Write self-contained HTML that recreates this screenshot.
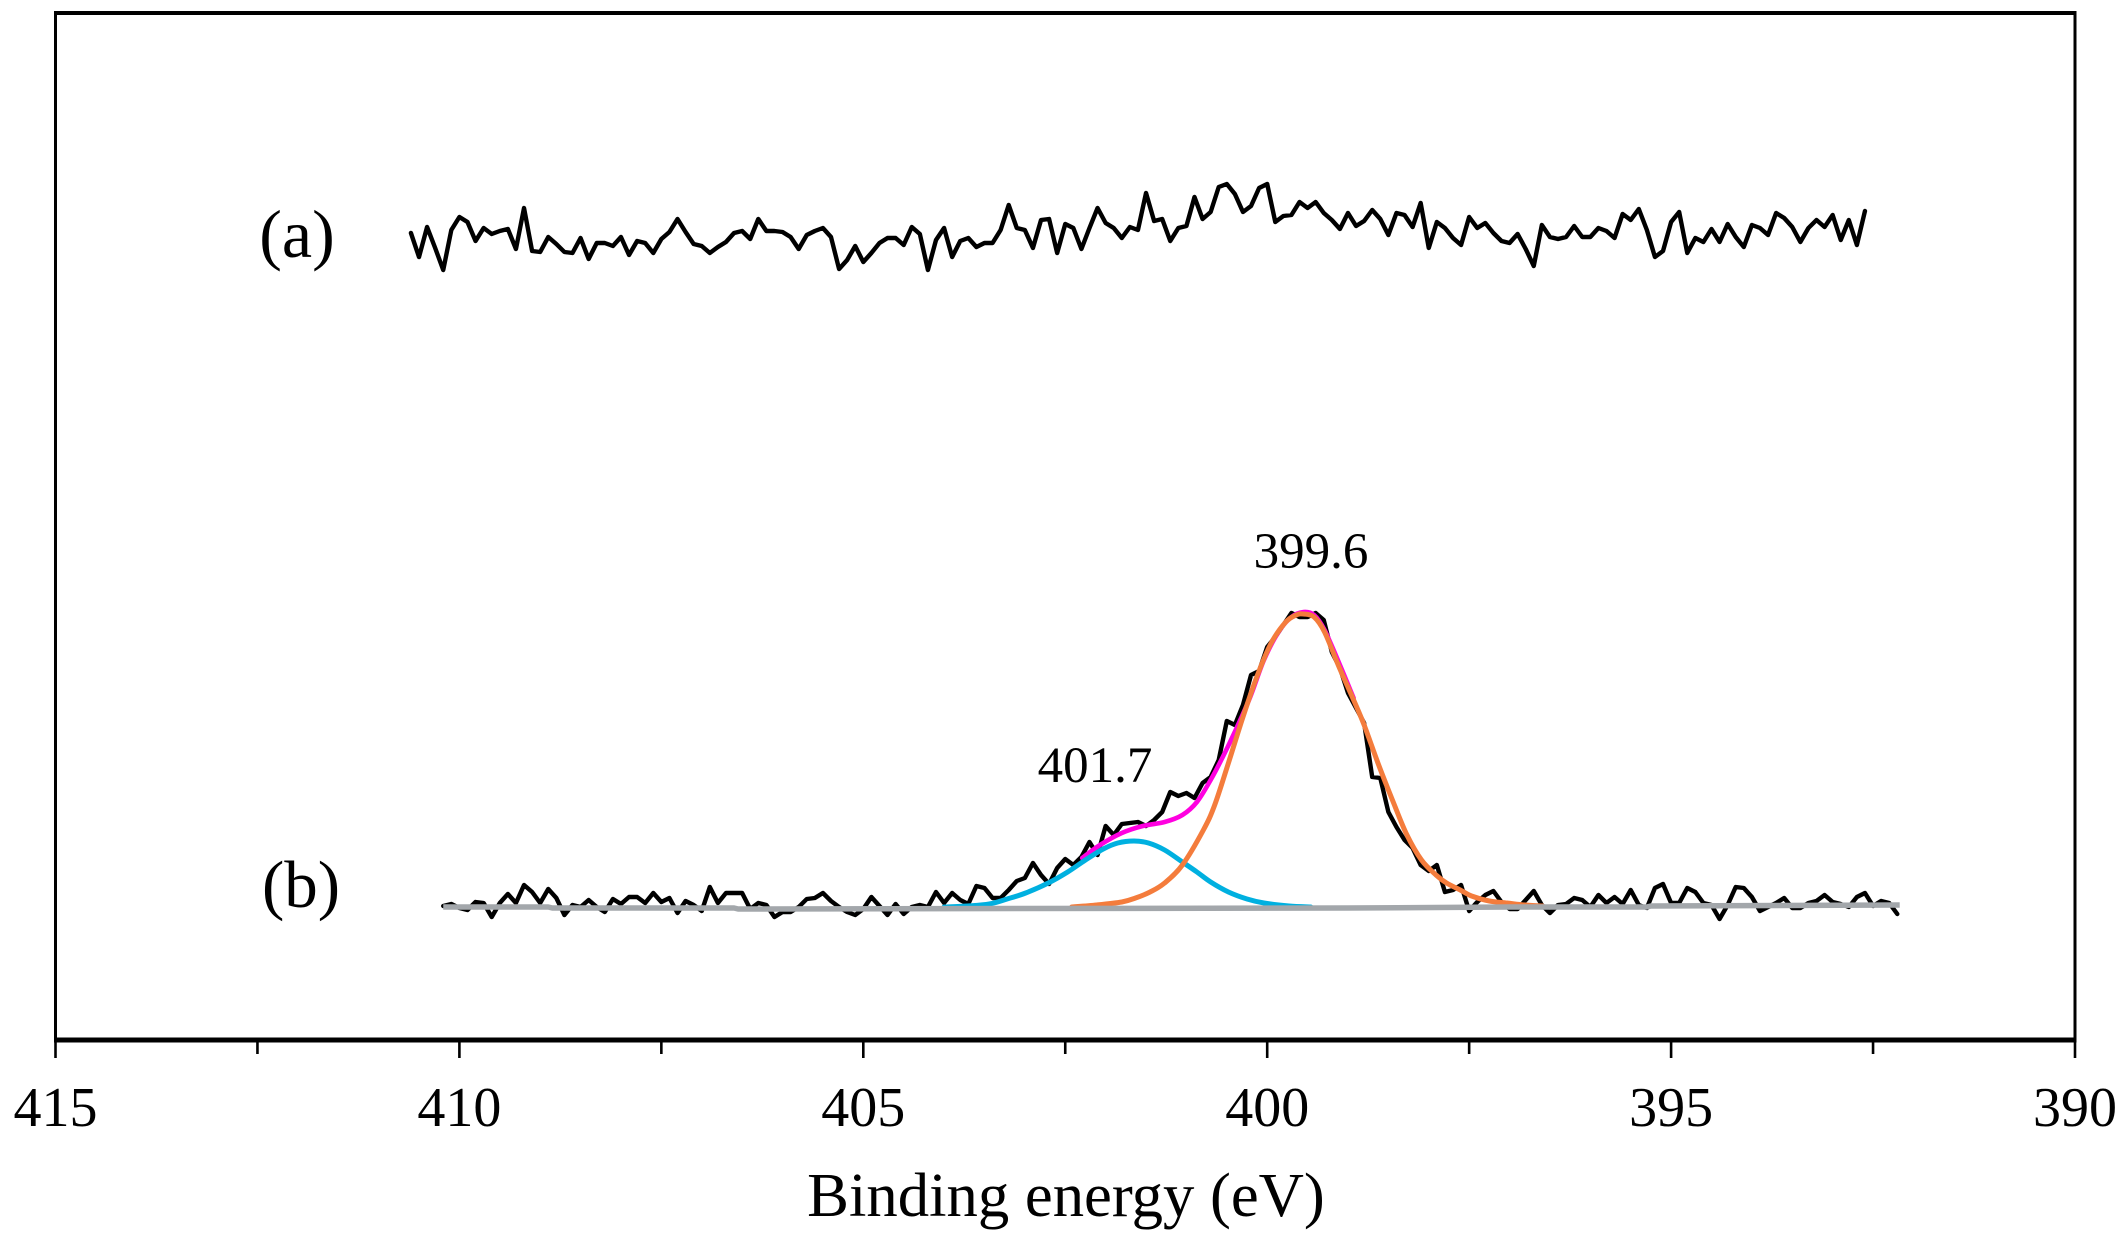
<!DOCTYPE html>
<html lang="en">
<head>
<meta charset="utf-8">
<title>Binding energy spectra</title>
<style>
html,body{margin:0;padding:0;background:#fff;width:2124px;height:1251px;overflow:hidden}
svg{display:block;font-family:"Liberation Serif",serif;fill:#000}
</style>
</head>
<body>
<svg id="chart" xmlns="http://www.w3.org/2000/svg" width="2124" height="1251" viewBox="0 0 2124 1251">
  <rect x="0" y="0" width="2124" height="1251" fill="#fff"/>
  <g id="series" fill="none" stroke-linejoin="round" stroke-linecap="round"></g>
  <g id="frame" stroke="#000"></g>
  <g id="ticks" stroke="#000"></g>
  <g id="labels" font-size="56" text-anchor="middle"></g>
  <text x="1066" y="1216" font-size="62.7" text-anchor="middle">Binding energy (eV)</text>
  <text x="297" y="257" font-size="68" text-anchor="middle">(a)</text>
  <text x="301" y="907" font-size="67" text-anchor="middle">(b)</text>
  <text x="1311" y="568" font-size="51" text-anchor="middle">399.6</text>
  <text x="1095" y="782" font-size="51" text-anchor="middle">401.7</text>
</svg>
<script>
const majorTicks = [415, 410, 405, 400, 395, 390];
const minorTicks = [412.5, 407.5, 402.5, 397.5, 392.5];
const curveAStart = 410.6;
const curveBStart = 410.2;
const energyStep = 0.1;

const curveA = [
807,783,813,792,770,810,823,818,799,812,806,809,811,791,832,789,788,803,796,788,787,802,781,797,797,794,803,785,799,797,787,801,808,821,808,796,794,787,793,798,807,809,801,821,809,809,
808,803,791,805,809,812,803,771,780,794,778,787,797,802,802,795,813,806,770,800,812,783,799,802,793,797,797,810,835,812,810,792,820,821,787,816,812,791,812,832,817,812,802,813,810,847,
819,821,799,812,814,843,821,828,853,856,846,828,834,852,856,818,824,825,838,832,838,827,820,811,827,814,819,830,821,805,827,825,813,837,792,818,812,802,795,823,812,817,807,799,797,806,
791,774,815,803,801,803,814,803,803,812,809,802,826,820,831,810,783,789,818,828,787,802,798,811,798,816,803,793,815,812,805,827,822,813,798,812,820,813,825,800,820,795,829
];

const curveB = [
134,136,132,130,138,137,123,137,146,137,155,148,137,151,142,125,135,133,140,133,128,141,136,143,143,137,147,138,142,127,139,135,129,153,137,147,
147,147,131,137,135,123,128,128,133,141,142,147,139,133,128,125,131,143,134,125,136,126,133,135,133,148,137,147,140,136,154,152,142,142,150,159,
162,177,165,156,172,181,175,183,198,185,214,205,216,217,218,214,220,228,248,244,247,242,257,263,280,319,315,335,365,369,393,403,415,427,423,423,427,420,388,372,347,332,317,263,262,228,213,200,192,175,169,175,
148,150,155,129,138,145,149,138,131,131,140,149,135,127,135,136,142,140,133,145,137,143,136,150,135,132,152,156,137,137,152,148,137,135,121,135,153,152,143,129,133,137,142,132,132,137,139,145,138,136,133,143,147,134,139,137,126
];

const baselineEnergy = [410.2, 408.9, 408.85, 406.6, 406.55, 399, 397, 395.3, 395.25, 392.17];
const baselineValues = [133, 133, 132, 132, 131, 132, 133, 133, 134, 135];

const cyanEnergy = [404.0,403.71,403.44,403.22,402.99,402.71,402.47,402.25,402.03,401.85,401.65,401.47,401.27,401.05,400.87,400.70,400.48,400.25,400.04,399.73,399.46];
const cyanValues = [133,134,136,141,147,157,168,180,191,197,199,197,190,178,168,158,148,141,137,134,133];

const orangeEnergy = [402.42,402.11,401.80,401.63,401.45,401.27,401.05,400.79,400.65,400.48,400.30,400.12,399.95,399.77,399.64,399.55,399.42,399.29,399.11,398.93,398.80,398.62,398.44,398.27,398.09,397.91,397.78,397.61,397.47,397.25,397.03,396.81,396.59];
const orangeValues = [133,135,138,142,148,157,175,210,235,277,323,365,397,418,425,426,423,408,373,340,315,275,238,205,180,165,157,150,144,139,137,135,134];

const magentaEnergy = [402.29,402.07,401.80,401.54,401.27,401.05,400.87,400.70,400.55,400.39,400.21,400.04,399.86,399.70,399.55,399.42,399.29,399.11,398.93];
const magentaValues = [182,195,207,214,218,225,238,260,283,310,343,380,408,423,428,425,410,377,342];

const svgNS = 'http://www.w3.org/2000/svg';
const plotLeft = 55.5, plotRight = 2075, plotTop = 13, plotBottom = 1040;
const xScale = e => plotLeft + (415 - e) * (plotRight - plotLeft) / 25;
const yScale = v => plotBottom - v;

function make(tag, attrs, parent) {
  const el = document.createElementNS(svgNS, tag);
  for (const k in attrs) el.setAttribute(k, attrs[k]);
  parent.appendChild(el);
  return el;
}
function straightPath(xs, ys) {
  return xs.map((x, i) => (i ? 'L' : 'M') + xScale(x).toFixed(2) + ' ' + yScale(ys[i]).toFixed(2)).join('');
}
function smoothPath(xs, ys) {
  const p = xs.map((x, i) => [xScale(x), yScale(ys[i])]);
  let d = 'M' + p[0][0].toFixed(2) + ' ' + p[0][1].toFixed(2);
  for (let i = 0; i < p.length - 1; i++) {
    const a = p[Math.max(0, i - 1)], b = p[i], c = p[i + 1], e = p[Math.min(p.length - 1, i + 2)];
    d += 'C' + (b[0] + (c[0] - a[0]) / 6).toFixed(2) + ' ' + (b[1] + (c[1] - a[1]) / 6).toFixed(2) + ' ' +
         (c[0] - (e[0] - b[0]) / 6).toFixed(2) + ' ' + (c[1] - (e[1] - b[1]) / 6).toFixed(2) + ' ' +
         c[0].toFixed(2) + ' ' + c[1].toFixed(2);
  }
  return d;
}

const seriesGroup = document.getElementById('series');
const energiesA = curveA.map((_, i) => curveAStart - i * energyStep);
const energiesB = curveB.map((_, i) => curveBStart - i * energyStep);

const lineA = make('path', {d: straightPath(energiesA, curveA), stroke: '#000', 'stroke-width': 4.4}, seriesGroup);



const lineB = make('path', {d: straightPath(energiesB, curveB), stroke: '#000', 'stroke-width': 4.4}, seriesGroup);



const lineMagenta = make('path', {d: smoothPath(magentaEnergy, magentaValues), stroke: '#ff00e0', 'stroke-width': 4.6}, seriesGroup);



const lineCyan = make('path', {d: smoothPath(cyanEnergy, cyanValues), stroke: '#00b0e0', 'stroke-width': 5}, seriesGroup);



const lineOrange = make('path', {d: smoothPath(orangeEnergy, orangeValues), stroke: '#f47c3c', 'stroke-width': 5}, seriesGroup);



const lineBase = make('path', {d: straightPath(baselineEnergy, baselineValues), stroke: '#a3a7ab', 'stroke-width': 5.5, 'stroke-linecap': 'butt'}, seriesGroup);



const frame = document.getElementById('frame');
const frameTop = make('line', {x1: plotLeft - 1.5, x2: plotRight + 1.5, y1: plotTop, y2: plotTop, 'stroke-width': 4}, frame);


const frameLeft = make('line', {x1: plotLeft, x2: plotLeft, y1: plotTop, y2: plotBottom, 'stroke-width': 3}, frame);


const frameRight = make('line', {x1: plotRight, x2: plotRight, y1: plotTop, y2: plotBottom, 'stroke-width': 3}, frame);


const frameBottom = make('line', {x1: plotLeft - 1.5, x2: plotRight + 1.5, y1: plotBottom, y2: plotBottom, 'stroke-width': 5}, frame);



const tickGroup = document.getElementById('ticks');
const labelGroup = document.getElementById('labels');
majorTicks.forEach(t => {
  const tick = make('line', {x1: xScale(t), x2: xScale(t), y1: plotBottom, y2: 1058, 'stroke-width': 2.6}, tickGroup);
  
  
  const label = make('text', {x: xScale(t), y: 1126}, labelGroup);
  
  
  label.textContent = String(t);
});
minorTicks.forEach(t => {
  const tick = make('line', {x1: xScale(t), x2: xScale(t), y1: plotBottom, y2: 1054, 'stroke-width': 2.6}, tickGroup);
  
  
});
</script>
</body>
</html>
